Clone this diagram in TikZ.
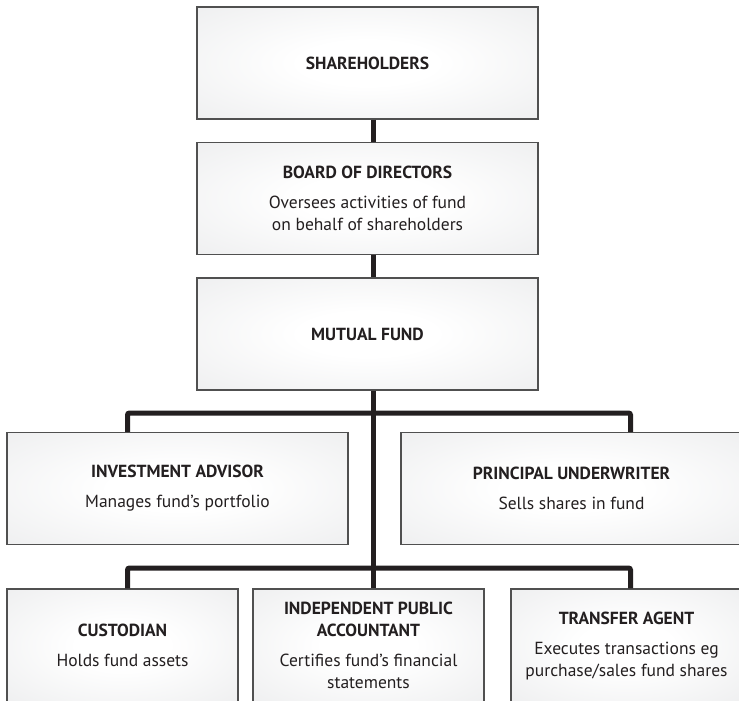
\documentclass[tikz,border=0pt]{standalone}
\usepackage{fontspec}
\setmainfont{PT Sans}
\definecolor{edgegray}{RGB}{222,223,225}
\definecolor{rimgray}{RGB}{80,80,80}
\definecolor{inkblack}{RGB}{35,31,32}
\pgfdeclareradialshading{boxshade}{\pgfpoint{0bp}{0bp}}{color(0bp)=(white); color(10bp)=(white); color(62bp)=(edgegray); color(75bp)=(edgegray)}
\begin{document}
\begin{tikzpicture}[x=1pt,y=-1pt,
    box/.style={draw=rimgray,line width=1.2pt,shade,shading=boxshade,align=center,
      inner sep=0pt,text=inkblack,font=\fontsize{17.5}{22}\selectfont},
    widebox/.style={box,minimum width=341pt,minimum height=112pt},
    smallbox/.style={box,minimum width=231pt,minimum height=113pt},
    link/.style={draw=inkblack,line width=5pt,rounded corners=2pt}]
  \clip (0,0) rectangle (739,701);
  \useasboundingbox (0,0) rectangle (739,701);
  % top column
  \node[widebox] (share) at (367.5,63) {\textbf{SHAREHOLDERS}};
  \node[widebox] (board) at (367.5,198.5) {\textbf{BOARD OF DIRECTORS}\\[8pt]Oversees activities of fund\\on behalf of shareholders};
  \node[widebox] (fund) at (367.5,334) {\textbf{MUTUAL FUND}};
  % service providers
  \node[widebox] (advisor) at (177.5,488.5) {\textbf{INVESTMENT ADVISOR}\\[8pt]Manages fund’s portfolio};
  \node[widebox] (underwriter) at (571.5,488.5) {\textbf{PRINCIPAL UNDERWRITER}\\[8pt]Sells shares in fund};
  \node[smallbox] (custodian) at (122.5,645.5) {\textbf{CUSTODIAN}\\[8pt]Holds fund assets};
  \node[smallbox] (accountant) at (368.5,645.5) {\textbf{INDEPENDENT PUBLIC}\\\textbf{ACCOUNTANT}\\[8pt]Certifies fund’s financial\\statements};
  \node[smallbox] (transfer) at (626.5,645.5) {\textbf{TRANSFER AGENT}\\[8pt]Executes transactions eg\\purchase/sales fund shares};
  % connectors
  \coordinate (trunk) at (373,0);
  \coordinate (leftdrop) at (127.5,0);
  \coordinate (rightdrop) at (630.5,0);
  \coordinate (bus1) at (373,413);
  \coordinate (bus2) at (373,568);
  \draw[link] (share.south -| trunk) -- (board.north -| trunk);
  \draw[link] (board.south -| trunk) -- (fund.north -| trunk);
  \draw[link] (fund.south -| trunk) -- (accountant.north -| trunk);
  \draw[link] (advisor.north -| leftdrop) |- (bus1) -| (underwriter.north -| rightdrop);
  \draw[link] (custodian.north -| leftdrop) |- (bus2) -| (transfer.north -| rightdrop);
\end{tikzpicture}
\end{document}
